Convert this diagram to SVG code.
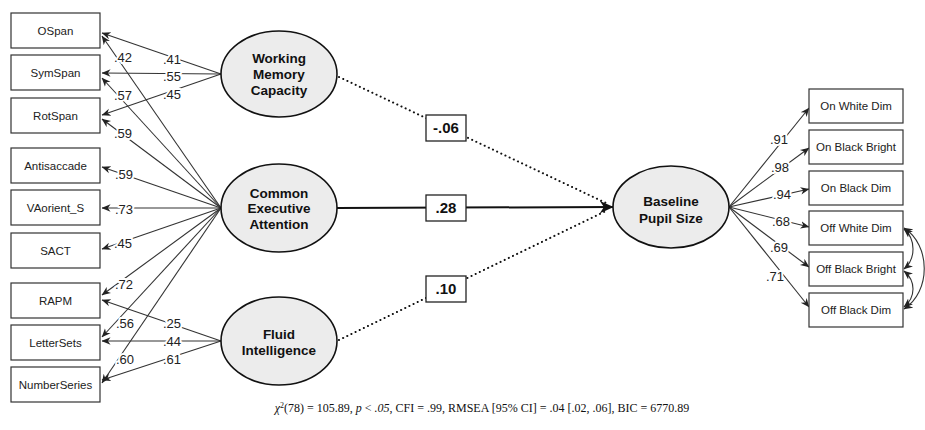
<svg xmlns="http://www.w3.org/2000/svg" width="925" height="430" viewBox="0 0 925 430">
<defs>
<marker id="ah" viewBox="0 0 10 10" refX="9.5" refY="5" markerWidth="9" markerHeight="9" markerUnits="userSpaceOnUse" orient="auto-start-reverse">
<path d="M0,0.8 L10,5 L0,9.2 L3,5 z" fill="#222"/>
</marker>
<marker id="big" viewBox="0 0 10 10" refX="9.5" refY="5" markerWidth="14" markerHeight="14" markerUnits="userSpaceOnUse" orient="auto">
<path d="M0,0.5 L10,5 L0,9.5 L3,5 z" fill="#111"/>
</marker>
<style>
.box{fill:#fff;stroke:#333;stroke-width:1.2}
.lat{fill:#ececec;stroke:#111;stroke-width:1.6}
.bt{font-family:"Liberation Sans",Arial,sans-serif;font-size:11.5px;fill:#222;text-anchor:middle}
.lt{font-family:"Liberation Sans",Arial,sans-serif;font-size:13.5px;font-weight:bold;fill:#111;text-anchor:middle}
.ld{stroke:#333;stroke-width:1.1;fill:none;marker-end:url(#ah)}
.lbl{font-family:"Liberation Sans",Arial,sans-serif;font-size:13px;fill:#222;text-anchor:middle;stroke:#fff;stroke-width:4;paint-order:stroke;stroke-linejoin:round}
.dot{stroke:#111;stroke-width:2;stroke-dasharray:0.1 4.5;stroke-linecap:round;fill:none}
.cov{stroke:#333;stroke-width:1.1;fill:none;marker-start:url(#ah);marker-end:url(#ah)}
.pb{fill:#fff;stroke:#222;stroke-width:1.3}
.pt{font-family:"Liberation Sans",Arial,sans-serif;font-size:15px;font-weight:bold;fill:#111;text-anchor:middle}
</style>
</defs>
<rect width="925" height="430" fill="#fff"/>

<g id="connectors">
<!-- WMC loadings -->
<line class="ld" x1="221" y1="74" x2="102" y2="33"/>
<line class="ld" x1="221" y1="74" x2="102" y2="73"/>
<line class="ld" x1="221" y1="74" x2="102" y2="115"/>
<!-- CEA loadings -->
<line class="ld" x1="221" y1="208" x2="102" y2="36"/>
<line class="ld" x1="221" y1="208" x2="102" y2="78"/>
<line class="ld" x1="221" y1="208" x2="102" y2="119"/>
<line class="ld" x1="221" y1="208" x2="102" y2="167"/>
<line class="ld" x1="221" y1="208" x2="102" y2="208"/>
<line class="ld" x1="221" y1="208" x2="102" y2="249"/>
<line class="ld" x1="221" y1="208" x2="102" y2="295"/>
<line class="ld" x1="221" y1="208" x2="102" y2="337"/>
<line class="ld" x1="221" y1="208" x2="102" y2="383"/>
<!-- Fluid loadings -->
<line class="ld" x1="221" y1="341" x2="102" y2="300"/>
<line class="ld" x1="221" y1="341" x2="102" y2="341"/>
<line class="ld" x1="221" y1="341" x2="102" y2="380"/>
<!-- Regressions -->
<line class="dot" x1="339" y1="77" x2="606" y2="203"/>
<line class="dot" x1="339" y1="340" x2="606" y2="211"/>
<line x1="337" y1="208" x2="613" y2="207" stroke="#111" stroke-width="2" marker-end="url(#big)"/>
<!-- Baseline loadings -->
<line class="ld" x1="729" y1="207" x2="809" y2="108"/>
<line class="ld" x1="729" y1="207" x2="809" y2="148"/>
<line class="ld" x1="729" y1="207" x2="809" y2="189"/>
<line class="ld" x1="729" y1="207" x2="809" y2="227"/>
<line class="ld" x1="729" y1="207" x2="809" y2="267"/>
<line class="ld" x1="729" y1="207" x2="809" y2="307"/>
<!-- Residual covariances -->
<path class="cov" d="M904,229 C916,239 916,259 904,269"/>
<path class="cov" d="M904,271 C916,281 916,297 904,307"/>
<path class="cov" d="M904,228 C931,245 931,292 904,309"/>
<!-- loading labels -->
<text class="lbl" x="172" y="64">.41</text>
<text class="lbl" x="172" y="81">.55</text>
<text class="lbl" x="172" y="99">.45</text>
<text class="lbl" x="123" y="62">.42</text>
<text class="lbl" x="123" y="100">.57</text>
<text class="lbl" x="123" y="138">.59</text>
<text class="lbl" x="124" y="179">.59</text>
<text class="lbl" x="124" y="214">.73</text>
<text class="lbl" x="123" y="248">.45</text>
<text class="lbl" x="124" y="289">.72</text>
<text class="lbl" x="125" y="328">.56</text>
<text class="lbl" x="125" y="364">.60</text>
<text class="lbl" x="172" y="328">.25</text>
<text class="lbl" x="172" y="346">.44</text>
<text class="lbl" x="172" y="364">.61</text>
<text class="lbl" x="779" y="144">.91</text>
<text class="lbl" x="780" y="172">.98</text>
<text class="lbl" x="782" y="199">.94</text>
<text class="lbl" x="781" y="226">.68</text>
<text class="lbl" x="779" y="252">.69</text>
<text class="lbl" x="775" y="281">.71</text>
</g>

<g id="path-wmc"><rect class="pb" x="426" y="115" width="40" height="26"/><text class="pt" x="446" y="133">-.06</text></g>
<g id="path-cea"><rect class="pb" x="426" y="195" width="40" height="26"/><text class="pt" x="446" y="213">.28</text></g>
<g id="path-fluid"><rect class="pb" x="426" y="276" width="40" height="26"/><text class="pt" x="446" y="294">.10</text></g>

<g id="ospan"><rect class="box" x="11" y="13" width="89" height="35"/><text class="bt" x="55.5" y="34.5">OSpan</text></g>
<g id="symspan"><rect class="box" x="11" y="55" width="89" height="35"/><text class="bt" x="55.5" y="76.5">SymSpan</text></g>
<g id="rotspan"><rect class="box" x="11" y="98" width="89" height="35"/><text class="bt" x="55.5" y="119.5">RotSpan</text></g>
<g id="antisaccade"><rect class="box" x="11" y="148" width="89" height="35"/><text class="bt" x="55.5" y="169.5">Antisaccade</text></g>
<g id="vaorient"><rect class="box" x="11" y="190" width="89" height="35"/><text class="bt" x="55.5" y="211.5">VAorient_S</text></g>
<g id="sact"><rect class="box" x="11" y="233" width="89" height="35"/><text class="bt" x="55.5" y="254.5">SACT</text></g>
<g id="rapm"><rect class="box" x="11" y="283" width="89" height="35"/><text class="bt" x="55.5" y="304.5">RAPM</text></g>
<g id="lettersets"><rect class="box" x="11" y="325" width="89" height="35"/><text class="bt" x="55.5" y="346.5">LetterSets</text></g>
<g id="numberseries"><rect class="box" x="11" y="367" width="89" height="35"/><text class="bt" x="55.5" y="388.5">NumberSeries</text></g>

<g id="wmc"><ellipse class="lat" cx="279" cy="74" rx="58" ry="43"/><text class="lt" x="279" y="63">Working</text><text class="lt" x="279" y="79">Memory</text><text class="lt" x="279" y="95">Capacity</text></g>
<g id="cea"><ellipse class="lat" cx="279" cy="208" rx="58" ry="44"/><text class="lt" x="279" y="198">Common</text><text class="lt" x="279" y="213">Executive</text><text class="lt" x="279" y="229">Attention</text></g>
<g id="fluid"><ellipse class="lat" cx="279" cy="341" rx="58" ry="44"/><text class="lt" x="279" y="339">Fluid</text><text class="lt" x="279" y="355">Intelligence</text></g>
<g id="baseline"><ellipse class="lat" cx="671" cy="207" rx="58" ry="41"/><text class="lt" x="671" y="206">Baseline</text><text class="lt" x="671" y="223">Pupil Size</text></g>

<g id="onwhitedim"><rect class="box" x="809" y="89" width="94" height="34"/><text class="bt" x="856" y="110">On White Dim</text></g>
<g id="onblackbright"><rect class="box" x="809" y="130" width="94" height="34"/><text class="bt" x="856" y="151">On Black Bright</text></g>
<g id="onblackdim"><rect class="box" x="809" y="171" width="94" height="34"/><text class="bt" x="856" y="192">On Black Dim</text></g>
<g id="offwhitedim"><rect class="box" x="809" y="211" width="94" height="34"/><text class="bt" x="856" y="232">Off White Dim</text></g>
<g id="offblackbright"><rect class="box" x="809" y="252" width="94" height="34"/><text class="bt" x="856" y="273">Off Black Bright</text></g>
<g id="offblackdim"><rect class="box" x="809" y="293" width="94" height="34"/><text class="bt" x="856" y="314">Off Black Dim</text></g>

<text x="482" y="412" font-family="'Liberation Serif','Times New Roman',serif" font-size="12" fill="#111" text-anchor="middle"><tspan font-style="italic">χ</tspan><tspan font-size="8" dy="-4.5">2</tspan><tspan dy="4.5">(78) = 105.89, </tspan><tspan font-style="italic">p</tspan> &lt; <tspan font-style="italic">.05</tspan>, CFI = .99, RMSEA [95% CI] = .04 [.02, .06], BIC = 6770.89</text>
</svg>
